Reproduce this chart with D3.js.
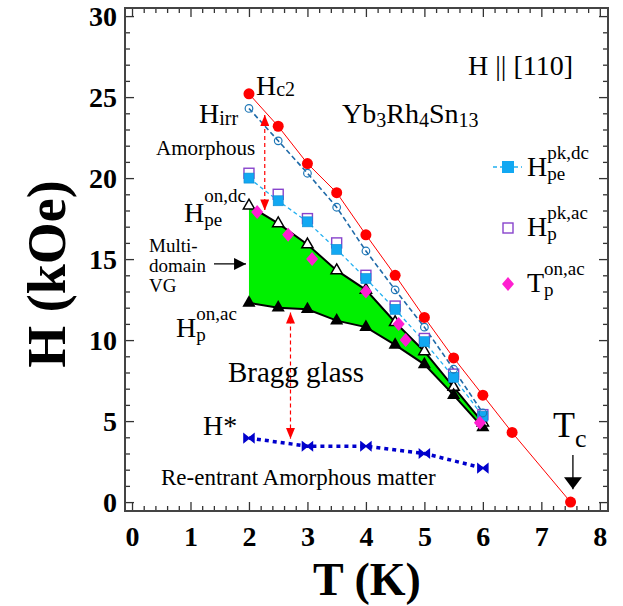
<html lang="en">
<head>
<meta charset="utf-8">
<script src="https://d3js.org/d3.v7.min.js"></script>
<style>
  body { margin: 0; background: white; }
  text { font-family: "Liberation Serif", "Times New Roman", serif; fill: black; }
  .axis text { font-weight: bold; font-size: 28px; }
  .axis line { stroke: #333; stroke-width: 1.3; }
  .axis path { display: none; }
</style>
</head>
<body>
<div class="main"></div>
<script>
// ---- data ----
var tempT   = [2, 2.5, 3, 3.5, 4, 4.5, 5, 5.5, 6];
var hc2T    = [2, 2.5, 3, 3.5, 4, 4.5, 5, 5.5, 6, 6.5, 7.5];
var hc2     = [25.2, 23.2, 20.9, 19.1, 16.5, 14.0, 11.4, 8.9, 6.6, 4.3, 0];
var hirr    = [24.3, 22.3, 20.3, 18.2, 15.5, 13.1, 10.8, 8.2, 5.5];
var hpePkDc = [20.0, 18.6, 17.3, 15.6, 13.8, 11.9, 9.9, 7.7, 5.3];
var hpPkAc  = [20.3, 19.0, 17.5, 16.0, 14.0, 12.1, 10.1, 7.9, 5.4];
var hpeOnDc = [18.3, 17.2, 15.9, 14.3, 13.1, 11.1, 9.3, 7.1, 4.9];
var hpOnAc  = [12.3, 12.0, 11.9, 11.2, 10.8, 9.7, 8.5, 6.6, 4.6];
var tpOnAcT = [2.14, 2.67, 3.08, 4.0, 4.56, 4.68, 5.95];
var tpOnAc  = [17.9, 16.5, 15.0, 13.0, 11.0, 10.0, 4.9];
var hStarT  = [2, 3, 4, 5, 6];
var hStar   = [3.95, 3.45, 3.45, 3.0, 2.1];
var xTicks  = [0, 1, 2, 3, 4, 5, 6, 7, 8];
var yTicks  = [0, 5, 10, 15, 20, 25, 30];

var width = 623, height = 606;
var padL = 125, padR = 608, padT = 8, padB = 511;

var svg = d3.select(".main").append("svg")
  .attr("width", width).attr("height", height);

var x = d3.scaleLinear().domain([-0.12, 8.14]).range([padL, padR]);
var y = d3.scaleLinear().domain([-0.55, 30.5]).range([padB, padT]);

function pts(ts, vs) { return ts.map(function(t, i){ return [t, vs[i]]; }); }

// arrow heads
var defs = svg.append("defs");
function head(id, color, w, h) {
  defs.append("marker").attr("id", id)
    .attr("viewBox", "0 0 " + h + " " + w)
    .attr("refX", h).attr("refY", w / 2)
    .attr("markerWidth", h).attr("markerHeight", w)
    .attr("markerUnits", "userSpaceOnUse")
    .attr("orient", "auto-start-reverse")
    .append("path").attr("d", "M0,0L" + h + "," + (w / 2) + "L0," + w + "Z")
    .attr("fill", color);
}
head("redhead", "#ff0000", 9, 11);
head("blackhead", "#000", 12, 12);
head("tchead", "#000", 18, 12);

var line = d3.line().x(function(d){ return x(d[0]); }).y(function(d){ return y(d[1]); });

// ---- green region between the two boundaries ----
var upper = pts(tempT, hpeOnDc), lower = pts(tempT, hpOnAc);
var region = upper.concat(lower.slice().reverse());
svg.append("path").attr("d", line(region) + "Z").attr("fill", "#00f000");

// ---- lines ----
svg.append("path").attr("d", line(upper)).attr("fill", "none").attr("stroke", "#000").attr("stroke-width", 2);
svg.append("path").attr("d", line(lower)).attr("fill", "none").attr("stroke", "#000").attr("stroke-width", 2);
svg.append("path").attr("d", line(pts(tempT, hpePkDc))).attr("fill", "none")
  .attr("stroke", "#22b0f0").attr("stroke-width", 1.3).attr("stroke-dasharray", "4,3");
svg.append("path").attr("d", line(pts(tempT, hirr))).attr("fill", "none")
  .attr("stroke", "#1f6aa8").attr("stroke-width", 1.6).attr("stroke-dasharray", "5,3");
svg.append("path").attr("d", line(pts(hc2T, hc2))).attr("fill", "none")
  .attr("stroke", "#ff0000").attr("stroke-width", 1);
svg.append("path").attr("d", line(pts(hStarT, hStar))).attr("fill", "none")
  .attr("stroke", "#0000cc").attr("stroke-width", 3.5).attr("stroke-dasharray", "4,4");

// ---- markers ----
var tri = d3.symbol().type(d3.symbolTriangle);
svg.selectAll(".otri").data(upper).enter().append("path")
  .attr("d", tri.size(55)())
  .attr("transform", function(d){ return "translate(" + x(d[0]) + "," + y(d[1]) + ")"; })
  .attr("fill", "white").attr("stroke", "#000").attr("stroke-width", 1.5);
svg.selectAll(".ftri").data(lower).enter().append("path")
  .attr("d", tri.size(75)())
  .attr("transform", function(d){ return "translate(" + x(d[0]) + "," + y(d[1]) + ")"; })
  .attr("fill", "#000");
svg.selectAll(".osq").data(pts(tempT, hpPkAc)).enter().append("rect")
  .attr("x", function(d){ return x(d[0]) - 5; }).attr("y", function(d){ return y(d[1]) - 5; })
  .attr("width", 10).attr("height", 10)
  .attr("fill", "white").attr("stroke", "#8844cc").attr("stroke-width", 1.4);
svg.selectAll(".fsq").data(pts(tempT, hpePkDc)).enter().append("rect")
  .attr("x", function(d){ return x(d[0]) - 5; }).attr("y", function(d){ return y(d[1]) - 5; })
  .attr("width", 10).attr("height", 10)
  .attr("fill", "#12a8f2").attr("stroke", "#0c8ad0").attr("stroke-width", 0.6);
svg.selectAll(".ocirc").data(pts(tempT, hirr)).enter().append("circle")
  .attr("cx", function(d){ return x(d[0]); }).attr("cy", function(d){ return y(d[1]); })
  .attr("r", 3.8).attr("fill", "none").attr("stroke", "#1f78b8").attr("stroke-width", 1.2);
var diamond = "M0,-7L6,0L0,7L-6,0Z";
svg.selectAll(".dia").data(pts(tpOnAcT, tpOnAc)).enter().append("path")
  .attr("d", diamond)
  .attr("transform", function(d){ return "translate(" + x(d[0]) + "," + y(d[1]) + ")"; })
  .attr("fill", "#ff1fd0");
svg.selectAll(".rcirc").data(pts(hc2T, hc2)).enter().append("circle")
  .attr("cx", function(d){ return x(d[0]); }).attr("cy", function(d){ return y(d[1]); })
  .attr("r", 5.5).attr("fill", "#ff0000");
svg.selectAll(".bow").data(pts(hStarT, hStar)).enter().append("path")
  .attr("d", "M-5,-4L5,4L5,-4L-5,4Z")
  .attr("transform", function(d){ return "translate(" + x(d[0]) + "," + y(d[1]) + ")"; })
  .attr("fill", "#0000cc").attr("stroke", "#0000cc").attr("stroke-width", 1.5);

// ---- red dashed double arrows ----
var arrows = [[2.27, 23.9, 18.0], [2.71, 11.7, 3.9]];
arrows.forEach(function(a){
  svg.append("line")
    .attr("x1", x(a[0])).attr("x2", x(a[0])).attr("y1", y(a[1])).attr("y2", y(a[2]))
    .attr("stroke", "#ff0000").attr("stroke-width", 1.2).attr("stroke-dasharray", "4,3")
    .attr("marker-start", "url(#redhead)").attr("marker-end", "url(#redhead)");
});
// multi-domain arrow and Tc arrow
svg.append("line").attr("x1", 214).attr("x2", x(1.95)).attr("y1", y(14.7)).attr("y2", y(14.7))
  .attr("stroke", "#000").attr("stroke-width", 1.2).attr("marker-end", "url(#blackhead)");
svg.append("line").attr("x1", x(7.54)).attr("x2", x(7.54)).attr("y1", y(2.9)).attr("y2", y(0.8))
  .attr("stroke", "#000").attr("stroke-width", 1.3).attr("marker-end", "url(#tchead)");

// ---- axes ----
var xMinor = d3.range(0, 8.01, 0.2).filter(function(v){ return Math.abs(v - Math.round(v)) > 1e-6; });
var yMinor = d3.range(0, 30.01, 1).filter(function(v){ return v % 5 !== 0; });

svg.append("g").attr("class", "axis").attr("transform", "translate(0," + padB + ")")
  .call(d3.axisBottom(x).tickValues(xTicks).tickSize(-9).tickFormat(d3.format("d")))
  .selectAll("text").attr("y", 35).attr("dy", 0);
svg.append("g").attr("class", "axis").attr("transform", "translate(0," + padB + ")")
  .call(d3.axisBottom(x).tickValues(xMinor).tickSize(-5).tickFormat(""));
svg.append("g").attr("class", "axis").attr("transform", "translate(0," + padT + ")")
  .call(d3.axisTop(x).tickValues(xTicks).tickSize(-9).tickFormat(""));
svg.append("g").attr("class", "axis").attr("transform", "translate(0," + padT + ")")
  .call(d3.axisTop(x).tickValues(xMinor).tickSize(-5).tickFormat(""));

svg.append("g").attr("class", "axis").attr("transform", "translate(" + padL + ",0)")
  .call(d3.axisLeft(y).tickValues(yTicks).tickSize(-9).tickFormat(d3.format("d")))
  .selectAll("text").attr("x", -8).attr("dy", "0.34em");
svg.append("g").attr("class", "axis").attr("transform", "translate(" + padL + ",0)")
  .call(d3.axisLeft(y).tickValues(yMinor).tickSize(-5).tickFormat(""));
svg.append("g").attr("class", "axis").attr("transform", "translate(" + padR + ",0)")
  .call(d3.axisRight(y).tickValues(yTicks).tickSize(-9).tickFormat(""));
svg.append("g").attr("class", "axis").attr("transform", "translate(" + padR + ",0)")
  .call(d3.axisRight(y).tickValues(yMinor).tickSize(-5).tickFormat(""));

svg.append("rect").attr("x", padL).attr("y", padT)
  .attr("width", padR - padL).attr("height", padB - padT)
  .attr("fill", "none").attr("stroke", "#444").attr("stroke-width", 2);

// axis titles
svg.append("text").attr("x", 367).attr("y", 595).attr("text-anchor", "middle")
  .style("font-weight", "bold").style("font-size", "46px").text("T (K)");
svg.append("text").attr("transform", "translate(65,274) rotate(-90)").attr("text-anchor", "middle")
  .style("font-weight", "bold").style("font-size", "54px").text("H (kOe)");

// ---- labels with sub/superscripts ----
function label(px, py, main, sub, sup, size, subSize, subDy, supDy) {
  var t = svg.append("text").attr("x", px).attr("y", py).style("font-size", size + "px").text(main);
  var w = t.node().getComputedTextLength();
  if (sub) svg.append("text").attr("x", px + w).attr("y", py + subDy).style("font-size", subSize + "px").text(sub);
  if (sup) svg.append("text").attr("x", px + w).attr("y", py + supDy).style("font-size", subSize + "px").text(sup);
}
label(256, 95, "H", "c2", null, 28, 20, 1, 0);
label(199, 123, "H", "irr", null, 28, 20, 2, 0);
label(184, 222, "H", "pe", "on,dc", 28, 19, 4, -20);
label(176, 337, "H", "p", "on,ac", 28, 19, 4, -17);
label(527, 176, "H", "pe", "pk,dc", 28, 19, 4, -17);
label(527, 236, "H", "p", "pk,ac", 28, 19, 4, -17);
label(527, 292, "T", "p", "on,ac", 28, 19, 4, -17);
label(553, 437, "T", "c", null, 36, 26, 10, 0);

// Yb3Rh4Sn13
var yb = svg.append("text").attr("x", 342).attr("y", 123).style("font-size", "28px");
[["Yb", 0], ["3", 1], ["Rh", 0], ["4", 1], ["Sn", 0], ["13", 1]].forEach(function(p){
  yb.append("tspan").text(p[0]).style("font-size", p[1] ? "20px" : "28px")
    .attr("y", p[1] ? 127 : 123);
});

svg.append("text").attr("x", 573).attr("y", 75).attr("text-anchor", "end")
  .style("font-size", "28px").text("H || [110]");
svg.append("text").attr("x", 156).attr("y", 155).style("font-size", "21px").text("Amorphous");
svg.append("text").attr("x", 149).attr("y", 252).style("font-size", "19px").text("Multi-");
svg.append("text").attr("x", 149).attr("y", 272).style("font-size", "19px").text("domain");
svg.append("text").attr("x", 149).attr("y", 292).style("font-size", "19px").text("VG");
svg.append("text").attr("x", 228).attr("y", 382).style("font-size", "29px").text("Bragg glass");
svg.append("text").attr("x", 203).attr("y", 435).style("font-size", "28px").text("H*");
svg.append("text").attr("x", 161).attr("y", 485).style("font-size", "23px").text("Re-entrant Amorphous matter");

// ---- legend symbols ----
svg.append("line").attr("x1", 493).attr("x2", 522).attr("y1", 167).attr("y2", 167)
  .attr("stroke", "#22b0f0").attr("stroke-width", 1.3).attr("stroke-dasharray", "4,3");
svg.append("rect").attr("x", 502).attr("y", 161).attr("width", 12).attr("height", 12)
  .attr("fill", "#12a8f2");
svg.append("rect").attr("x", 503).attr("y", 223).attr("width", 10).attr("height", 10)
  .attr("fill", "white").attr("stroke", "#8844cc").attr("stroke-width", 1.4);
svg.append("path").attr("d", diamond).attr("transform", "translate(508,284)").attr("fill", "#ff1fd0");
</script>
</body>
</html>
